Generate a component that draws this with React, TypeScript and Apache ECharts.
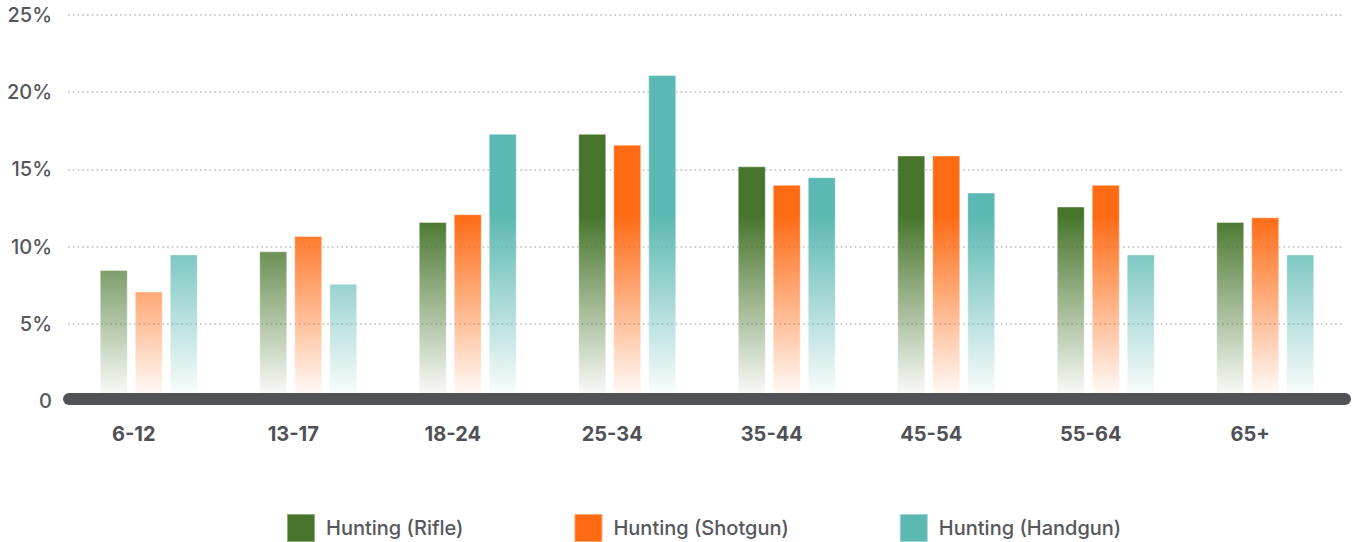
import React, { useEffect, useRef } from "react";
import * as echarts from "echarts";

const categories = ["6-12", "13-17", "18-24", "25-34", "35-44", "45-54", "55-64", "65+"];
const rifle = [8.5, 9.7, 11.6, 17.3, 15.2, 15.9, 12.6, 11.6];
const shotgun = [7.1, 10.7, 12.1, 16.6, 14.0, 15.9, 14.0, 11.9];
const handgun = [9.5, 7.6, 17.3, 21.1, 14.5, 13.5, 9.5, 9.5];
const seriesNames = ["Hunting (Rifle)", "Hunting (Shotgun)", "Hunting (Handgun)"];
const seriesColors = ["#47752b", "#ff6a13", "#5bb8b2"];
const yMax = 25;
const yStep = 5;

function hexToRgba(hex: string, a: number) {
  const n = parseInt(hex.slice(1), 16);
  return `rgba(${(n >> 16) & 255},${(n >> 8) & 255},${n & 255},${a})`;
}

function fade(color: string) {
  return {
    type: "linear",
    x: 0,
    y: 215,
    x2: 0,
    y2: 395,
    global: true,
    colorStops: [
      { offset: 0, color: color },
      { offset: 1, color: hexToRgba(color, 0.03) },
    ],
  };
}

export default function App() {
  const ref = useRef<HTMLDivElement>(null);
  useEffect(() => {
    if (!ref.current) return;
    const chart = echarts.init(ref.current, undefined, { renderer: "svg" });
    const data = [rifle, shotgun, handgun];
    chart.setOption({
      animation: false,
      grid: { left: 69, right: 9, top: 14.8, bottom: 140.7, containLabel: false },
      legend: {
        left: 286,
        top: 513,
        padding: 0,
        itemWidth: 28,
        itemHeight: 28,
        itemGap: 110,
        icon: "rect",
        data: seriesNames,
        textStyle: {
          fontFamily: "Inter",
          fontSize: 20,
          fontWeight: 500,
          color: "#55575d",
          padding: [0, 0, 0, 6],
        },
      },
      xAxis: {
        type: "category",
        data: categories,
        offset: -3,
        z: 5,
        axisLine: {
          show: true,
          lineStyle: { color: "#505258", width: 12, cap: "round" },
        },
        axisTick: { show: false },
        axisLabel: {
          fontFamily: "Inter",
          fontWeight: 700,
          fontSize: 20,
          color: "#4f5157",
          margin: 26,
          padding: [0, 30, 0, 0],
        },
      },
      yAxis: {
        type: "value",
        min: 0,
        max: yMax,
        interval: yStep,
        axisLine: { show: false },
        axisTick: { show: false },
        axisLabel: {
          fontFamily: "Inter",
          fontWeight: 500,
          fontSize: 20,
          color: "#55575d",
          margin: 17,
          formatter: (v: number) => (v === 0 ? "0" : v + "%"),
        },
        splitLine: {
          show: true,
          lineStyle: { color: "#c8c8c8", width: 2, type: [0.01, 4.7], cap: "round" },
        },
      },
      series: data.map((d, i) => ({
        name: seriesNames[i],
        type: "bar",
        data: d,
        barWidth: 28,
        barGap: "25%",
        color: seriesColors[i],
        itemStyle: {
          color: fade(seriesColors[i]),
          borderColor: "rgba(255,255,255,0.4)",
          borderWidth: 1,
        },
      })),
    });
    return () => chart.dispose();
  }, []);
  return (
    <div
      ref={ref}
      style={{ position: "absolute", left: 0, top: 0, width: 1354, height: 542 }}
    />
  );
}
